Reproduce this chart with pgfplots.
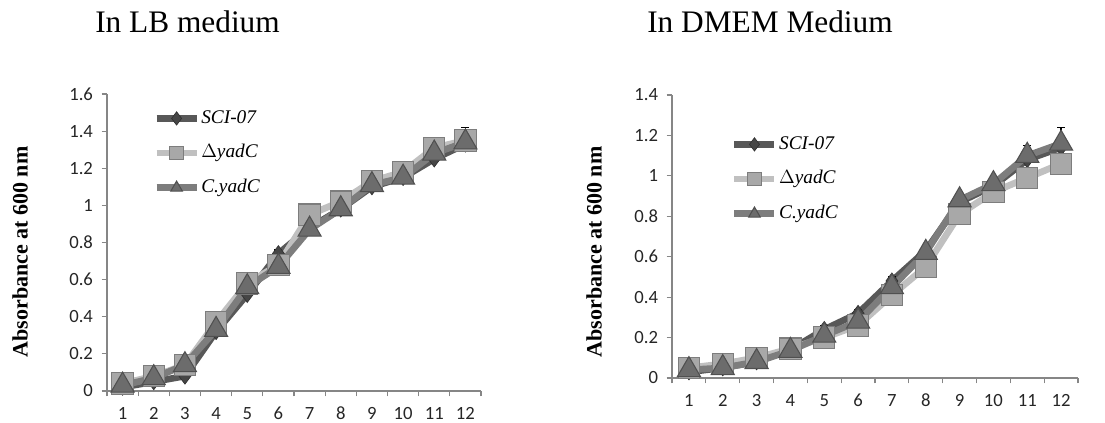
\documentclass[border=0pt]{standalone}
\usepackage{fontspec}
\setmainfont{Liberation Serif}
\newfontfamily\carlito{Carlito}
\usepackage{pgfplots}
\usepackage{pgfplotstable}
\pgfplotsset{compat=1.18}

\definecolor{axisgray}{RGB}{134,134,134}
\definecolor{sciline}{RGB}{88,88,88}
\definecolor{scimark}{RGB}{70,70,70}
\definecolor{dline}{RGB}{192,192,192}
\definecolor{dmark}{RGB}{168,168,168}
\definecolor{dedge}{RGB}{125,125,125}
\definecolor{cline}{RGB}{125,125,125}
\definecolor{cmark}{RGB}{108,108,108}
\definecolor{cedge}{RGB}{80,80,80}

% x  SCI-07  err  dyadC  CyadC
\pgfplotstableread{
x  sci   e     dy     cy
1  0.02  0.01  0.04   0.03
2  0.05  0.01  0.08   0.07
3  0.08  0.01  0.14   0.14
4  0.32  0.02  0.37   0.33
5  0.52  0.02  0.58   0.56
6  0.74  0.02  0.68   0.67
7  0.88  0.02  0.95   0.87
8  0.98  0.02  1.02   0.98
9  1.10  0.02  1.13   1.11
10 1.15  0.02  1.18   1.15
11 1.25  0.02  1.31   1.28
12 1.33  0.09  1.35   1.34
}\lbdata

\pgfplotstableread{
x  sci   e     dy     cy
1  0.03  0.01  0.05   0.04
2  0.05  0.01  0.07   0.05
3  0.08  0.01  0.10   0.08
4  0.14  0.01  0.145  0.135
5  0.24  0.02  0.20   0.21
6  0.32  0.02  0.26   0.28
7  0.48  0.02  0.41   0.45
8  0.63  0.02  0.55   0.62
9  0.87  0.02  0.81   0.88
10 0.95  0.02  0.92   0.96
11 1.08  0.07  0.99   1.10
12 1.14  0.10  1.06   1.16
}\dmemdata

\pgfplotsset{
  growth/.style={
    scale only axis, anchor=south west, clip=false,
    xmin=0.5, xmax=12.5, ymin=0,
    axis lines*=left,
    axis line style={draw=axisgray, line width=0.8pt},
    tick style={draw=axisgray, line width=0.8pt},
    tick align=outside, major tick length=4pt,
    xtick={0.5,1.5,...,12.5}, x tick label as interval,
    xticklabels={1,2,3,4,5,6,7,8,9,10,11,12},
    tick label style={font=\carlito\fontsize{14}{16}\selectfont, text=black!85},
    yticklabel style={xshift=-3pt},
    xticklabel style={yshift=-4pt, text height=9.5pt, text depth=0pt},
    /pgf/number format/assume math mode=true,
    legend cell align=left,
    legend style={draw=none, fill=none, inner sep=0pt, row sep=11pt,
      nodes={inner sep=1pt, text height=10pt, text depth=3pt},
      font=\itshape\fontsize{14.5}{16}\selectfont},
    legend image code/.code={
      \draw[##1, mark repeat=2, mark phase=2, mark size=5pt]
        plot coordinates {(0pt,0pt) (15pt,0pt) (30pt,0pt)};},
  },
  sci/.style={sciline, line width=5pt, mark=diamond*, mark size=6pt,
    mark options={fill=scimark, draw=scimark!70!black, line width=0.5pt}},
  dy/.style={dline, line width=5pt, mark=square*, mark size=8pt,
    mark options={fill=dmark, draw=dedge, line width=0.8pt}},
  cy/.style={cline, line width=5pt, mark=triangle*, mark size=10pt,
    mark options={fill=cmark, draw=cedge, line width=0.8pt}},
  errs/.style={error bars/.cd, y dir=plus, y explicit,
    error bar style={black, line width=0.9pt, solid},
    error mark options={black, rotate=90, mark size=3pt, line width=0.9pt}},
}

\begin{document}
\begin{tikzpicture}
\useasboundingbox (0,0) rectangle (828.75pt,317.25pt);

\node[anchor=base west, font=\fontsize{23.5}{26}\selectfont, inner sep=0pt]
  at (71.25pt,292.5pt) {In LB medium};
\node[anchor=base west, font=\fontsize{23.5}{26}\selectfont, inner sep=0pt]
  at (485.25pt,292.5pt) {In DMEM Medium};

\node[rotate=90, font=\bfseries\fontsize{16.5}{18}\selectfont]
  at (15pt,128.25pt) {Absorbance at 600 nm};
\node[rotate=90, font=\bfseries\fontsize{16.5}{18}\selectfont]
  at (445.5pt,128.25pt) {Absorbance at 600 nm};

\begin{axis}[growth,
    at={(80.25pt,24pt)}, width=280.5pt, height=222.75pt,
    ymax=1.6, ytick={0,0.2,0.4,0.6,0.8,1,1.2,1.4,1.6},
    legend style={at={(rel axis cs:0.123,0.801)}, anchor=west}]
  \addplot[sci, errs] table[x=x, y=sci, y error=e] {\lbdata};
  \addlegendentry{SCI-07}
  \addplot[dy] table[x=x, y=dy] {\lbdata};
  \addlegendentry{$\Delta$yadC}
  \addplot[cy] table[x=x, y=cy] {\lbdata};
  \addlegendentry{C.yadC}
\end{axis}

\begin{axis}[growth,
    at={(504pt,33.75pt)}, width=304.5pt, height=212.25pt,
    ymax=1.4, ytick={0,0.2,0.4,0.6,0.8,1,1.2,1.4},
    legend style={at={(rel axis cs:0.145,0.703)}, anchor=west}]
  \addplot[sci, errs] table[x=x, y=sci, y error=e] {\dmemdata};
  \addlegendentry{SCI-07}
  \addplot[dy] table[x=x, y=dy] {\dmemdata};
  \addlegendentry{$\Delta$yadC}
  \addplot[cy] table[x=x, y=cy] {\dmemdata};
  \addlegendentry{C.yadC}
\end{axis}
\end{tikzpicture}
\end{document}
